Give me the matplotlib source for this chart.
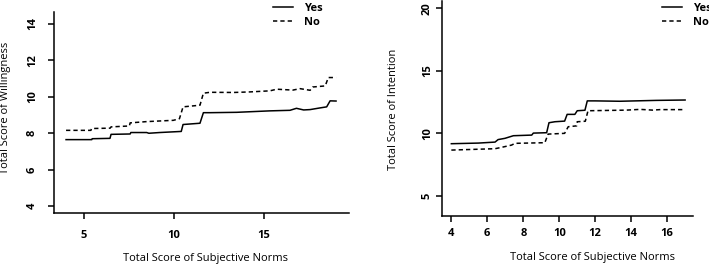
import matplotlib
matplotlib.use("Agg")
import matplotlib.pyplot as plt
from matplotlib.lines import Line2D

plt.rcParams['font.family'] = ['Open Sans', 'DejaVu Sans']

# ---- Left panel: Willingness ----
will_yes_x = [4.0, 5.43, 5.45, 6.44, 6.5, 7.56, 7.6, 8.48, 8.6, 9.2, 10.4, 10.5, 11.44, 11.63, 12.0, 13.48, 15.33, 16.44, 16.8, 17.2, 17.56, 18.1, 18.48, 18.67, 19.0]
will_yes_y = [7.65, 7.65, 7.7, 7.72, 7.94, 7.96, 8.04, 8.04, 8.0, 8.04, 8.1, 8.48, 8.55, 9.13, 9.13, 9.15, 9.23, 9.26, 9.37, 9.28, 9.3, 9.39, 9.45, 9.78, 9.77]
will_no_x = [4.0, 5.38, 5.42, 6.45, 6.5, 7.52, 7.56, 8.48, 9.96, 10.3, 10.5, 11.44, 11.63, 12.0, 13.3, 14.2, 15.33, 15.7, 16.6, 17.0, 17.56, 17.7, 18.4, 18.57, 19.0]
will_no_y = [8.16, 8.16, 8.26, 8.28, 8.35, 8.4, 8.57, 8.64, 8.71, 8.8, 9.45, 9.54, 10.2, 10.25, 10.24, 10.27, 10.33, 10.42, 10.37, 10.45, 10.36, 10.54, 10.6, 11.06, 11.06]

# ---- Right panel: Intention ----
int_yes_x = [4.0, 5.5, 6.43, 6.6, 6.98, 7.45, 8.47, 8.56, 9.3, 9.43, 9.76, 10.3, 10.44, 10.87, 11.0, 11.43, 11.56, 12.0, 13.37, 15.4, 17.0]
int_yes_y = [9.17, 9.22, 9.3, 9.5, 9.6, 9.81, 9.86, 10.02, 10.05, 10.85, 10.93, 10.98, 11.52, 11.52, 11.81, 11.85, 12.6, 12.6, 12.57, 12.64, 12.67]
int_no_x = [4.0, 6.43, 6.8, 7.35, 7.54, 9.2, 9.38, 10.3, 10.5, 10.97, 11.0, 11.45, 11.6, 13.74, 14.5, 15.2, 15.6, 17.0]
int_no_y = [8.66, 8.77, 8.88, 9.06, 9.2, 9.25, 9.94, 10.0, 10.53, 10.6, 10.93, 10.97, 11.81, 11.86, 11.92, 11.86, 11.9, 11.9]

xlabel = "Total Score of Subjective Norms"
left_ylabel = "Total Score of Willingness"
right_ylabel = "Total Score of Intention"
series_names = ["Yes", "No"]
left_xticks = [5, 10, 15]
left_yticks = [4, 6, 8, 10, 12, 14]
right_xticks = [4, 6, 8, 10, 12, 14, 16]
right_yticks = [5, 10, 15, 20]

W, H = 709, 265
fig = plt.figure(figsize=(W / 100, H / 100), dpi=100)

LW = 1.1
dash = (0, (2.8, 2.0))
fs = 8.0

def style(ax, tickpad_x, tickpad_y):
    for s in ['top', 'right']:
        ax.spines[s].set_visible(False)
    for s in ['left', 'bottom']:
        ax.spines[s].set_linewidth(LW)
    ax.tick_params(direction='out', length=4.5, width=LW, labelsize=fs)
    ax.tick_params(axis='x', pad=tickpad_x)
    ax.tick_params(axis='y', pad=tickpad_y)
    for lab in ax.get_xticklabels() + ax.get_yticklabels():
        lab.set_fontweight('bold')
    for lab in ax.get_yticklabels():
        lab.set_rotation(90)
        lab.set_ha('center')
        lab.set_va('center')

# Left axes (pixels: x 54..349, y 12..213)
ax1 = fig.add_axes([54 / W, (H - 213) / H, 295 / W, 201 / H])
ax1.plot(will_yes_x, will_yes_y, color='black', lw=LW, ls='-')
ax1.plot(will_no_x, will_no_y, color='black', lw=LW, ls=dash)
ax1.set_xlim(3.33, 19.72)
ax1.set_ylim(3.62, 14.66)
ax1.set_xticks(left_xticks)
ax1.set_yticks(left_yticks)
style(ax1, 8, 11)
ax1.set_xlabel(xlabel, fontsize=fs, va='center')
ax1.xaxis.set_label_coords(0.512, -0.224)
ax1.set_ylabel(left_ylabel, fontsize=fs, va='center')
ax1.yaxis.set_label_coords(-0.166, 0.522)

# Right axes (pixels: x 442..693, y 1..216)
ax2 = fig.add_axes([442 / W, (H - 216) / H, 251 / W, 215 / H])
ax2.plot(int_yes_x, int_yes_y, color='black', lw=LW, ls='-')
ax2.plot(int_no_x, int_no_y, color='black', lw=LW, ls=dash)
ax2.set_xlim(3.48, 17.44)
ax2.set_ylim(3.38, 20.6)
ax2.set_xticks(right_xticks)
ax2.set_yticks(right_yticks)
style(ax2, 4, 6)
ax2.set_xlabel(xlabel, fontsize=fs, va='center')
ax2.xaxis.set_label_coords(0.6, -0.195)
ax2.set_ylabel(right_ylabel, fontsize=fs, va='center')
ax2.yaxis.set_label_coords(-0.195, 0.498)

handles = [Line2D([], [], color='black', lw=LW, ls='-'),
           Line2D([], [], color='black', lw=LW, ls=dash)]
for x0 in (273, 662):
    fig.legend(handles, series_names, loc='upper left',
               bbox_to_anchor=(x0 / W, 1 - 3 / H), frameon=False,
               borderpad=0, borderaxespad=0, handlelength=1.8,
               handletextpad=1.0, labelspacing=0.3,
               prop={'size': fs, 'weight': 'bold'})

fig.savefig('out.png', dpi=100)
